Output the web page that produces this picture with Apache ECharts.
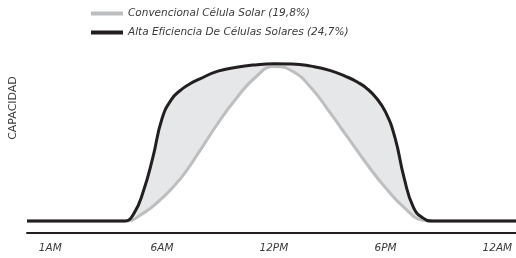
<!DOCTYPE html>
<html lang="es">
<head>
    <meta charset="UTF-8">
    <title>Capacidad de células solares</title>
    <script src="https://cdn.jsdelivr.net/npm/echarts/dist/echarts.min.js"></script>
    <style>
        html, body { margin: 0; padding: 0; background: #fff; }
        #main { width: 516px; height: 258px; }
    </style>
</head>
<body>
    <div id="main"></div>
    <script>
        // etiquetas del eje x (posiciones en horas del eje)
        var tickValues = [0, 6, 12, 18, 24];
        var tickLabels = ['1AM', '6AM', '12PM', '6PM', '12AM'];

        // alta eficiencia (24,7%)
        var altaHours = [-1.25, 0, 2, 3.5, 4, 4.5, 5, 5.5, 6, 6.5, 7, 7.5, 8, 9, 10, 11, 12, 13, 14, 15, 16, 16.5, 17, 17.5, 18, 18.5, 19, 19.5, 20, 20.5, 21, 23, 25];
        var altaValues = [0, 0, 0, 0, 0, 5, 19, 40, 65, 77, 83, 87, 90, 95, 97.5, 99, 99.7, 99.6, 98.2, 95.5, 91, 88, 84, 78, 69, 53, 27, 8.5, 2, 0, 0, 0, 0];

        // convencional (19,8%)
        var convHours = [-1.25, 0, 2, 3.5, 4, 5, 6, 7, 8, 9, 10, 11, 12, 13, 14, 15, 16, 17, 18, 19, 20, 20.5, 21, 23, 25];
        var convValues = [0, 0, 0, 0, 0, 5, 14.5, 27, 44, 62, 78, 91, 98, 95, 84.5, 69, 52.5, 36, 21, 8.5, 0.5, 0, 0, 0, 0];

        var nameConv = 'Convencional Célula Solar (19,8%)';
        var nameAlta = 'Alta Eficiencia De Células Solares (24,7%)';

        function pairs(xs, ys) {
            return xs.map(function (x, i) { return [x, ys[i]]; });
        }

        var chart = echarts.init(document.getElementById('main'));
        var font = 'DejaVu Sans';

        var option = {
            animation: false,
            grid: { left: 27, right: 0, top: 57, bottom: 25 },
            legend: {
                orient: 'vertical',
                left: 86,
                top: 3,
                itemWidth: 32,
                itemHeight: 4,
                itemGap: 8,
                icon: 'rect',
                data: [nameConv, nameAlta],
                textStyle: { fontFamily: font, fontStyle: 'italic', fontSize: 10.5, color: '#3a3a3a' }
            },
            graphic: [{
                type: 'text',
                x: 13,
                y: 108,
                rotation: Math.PI / 2,
                style: {
                    text: 'CAPACIDAD',
                    fontFamily: font,
                    fontSize: 11,
                    fill: '#3a3a3a',
                    textAlign: 'center',
                    textVerticalAlign: 'middle'
                }
            }],
            xAxis: {
                type: 'value',
                min: -1.25,
                max: 25,
                splitLine: { show: false },
                axisTick: { show: false },
                axisLine: { onZero: false, lineStyle: { color: '#231f20', width: 2 } },
                axisLabel: {
                    customValues: tickValues,
                    margin: 10,
                    fontFamily: font,
                    fontStyle: 'italic',
                    fontSize: 10.5,
                    color: '#3a3a3a',
                    formatter: function (v) {
                        return tickLabels[tickValues.indexOf(v)];
                    }
                }
            },
            yAxis: {
                type: 'value',
                min: -7.6,
                max: 104,
                show: false,
                splitLine: { show: false }
            },
            series: [
                {
                    // relleno entre curvas
                    name: 'relleno',
                    type: 'line',
                    data: pairs(altaHours, altaValues),
                    smooth: 0.5,
                    showSymbol: false,
                    silent: true,
                    lineStyle: { width: 0 },
                    areaStyle: { color: '#e6e7e8', opacity: 1 },
                    z: 1
                },
                {
                    name: nameConv,
                    type: 'line',
                    color: '#bcbec0',
                    data: pairs(convHours, convValues),
                    smooth: 0.5,
                    showSymbol: false,
                    clip: false,
                    lineStyle: { color: '#bcbec0', width: 3 },
                    areaStyle: { color: '#ffffff', opacity: 1 },
                    z: 2
                },
                {
                    name: nameAlta,
                    type: 'line',
                    color: '#231f20',
                    data: pairs(altaHours, altaValues),
                    smooth: 0.5,
                    showSymbol: false,
                    clip: false,
                    lineStyle: { color: '#231f20', width: 3 },
                    z: 3
                }
            ]
        };

        chart.setOption(option);
    </script>
</body>
</html>
